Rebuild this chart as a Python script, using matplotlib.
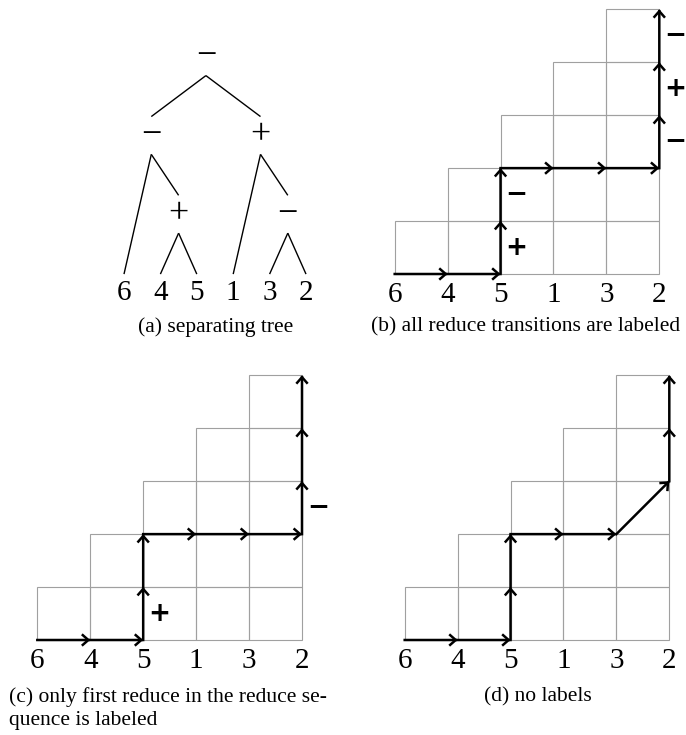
import matplotlib
matplotlib.use("Agg")
import matplotlib.pyplot as plt
from matplotlib.patches import Rectangle, FancyArrowPatch

# ---------------- data ----------------
leaf_labels = ['6', '4', '5', '1', '3', '2']
# tree nodes: name -> (label, x, level)
tree_nodes = {
    'root': ('\u2212', 2.25, 3),
    'L':    ('\u2212', 0.75, 2),
    'R':    ('+',      3.75, 2),
    'Lp':   ('+',      1.5, 1),
    'Rm':   ('\u2212', 4.5, 1),
    'l0': ('6', 0, 0), 'l1': ('4', 1, 0), 'l2': ('5', 2, 0),
    'l3': ('1', 3, 0), 'l4': ('3', 4, 0), 'l5': ('2', 5, 0),
}
tree_edges = [('root', 'L'), ('root', 'R'), ('L', 'l0'), ('L', 'Lp'),
              ('Lp', 'l1'), ('Lp', 'l2'), ('R', 'l3'), ('R', 'Rm'),
              ('Rm', 'l4'), ('Rm', 'l5')]

n_cols = 5
path_b = [(0, 0), (1, 0), (2, 0), (2, 1), (2, 2), (3, 2), (4, 2), (5, 2),
          (5, 3), (5, 4), (5, 5)]
path_c = path_b
path_d = [(0, 0), (1, 0), (2, 0), (2, 1), (2, 2), (3, 2), (4, 2), (5, 3),
          (5, 4), (5, 5)]
signs_b = [(2, 0.5, '+'), (2, 1.5, '\u2212'), (5, 2.5, '\u2212'),
           (5, 3.5, '+'), (5, 4.5, '\u2212')]
signs_c = [(2, 0.5, '+'), (5, 2.5, '\u2212')]
signs_d = []

captions = {
    'a': '(a) separating tree',
    'b': '(b) all reduce transitions are labeled',
    'c1': '(c) only first reduce in the reduce se-',
    'c2': 'quence is labeled',
    'd': '(d) no labels',
}

# ---------------- figure ----------------
W, H = 686, 735
fig = plt.figure(figsize=(W / 100, H / 100), dpi=100)
SERIF = ['Liberation Serif', 'DejaVu Serif']


def px_axes(x0, y0, x1, y1, xlim, ylim):
    """axes whose data box xlim/ylim maps to pixel box (x0,y0)-(x1,y1) (y from top)."""
    ax = fig.add_axes([x0 / W, 1 - y1 / H, (x1 - x0) / W, (y1 - y0) / H])
    ax.set_xlim(*xlim)
    ax.set_ylim(*ylim)
    ax.axis('off')
    return ax


GRAY = '#a0a0a0'


def draw_grid_panel(ax, path, signs):
    for r in range(n_cols):
        for c in range(r, n_cols):
            ax.add_patch(Rectangle((c, r), 1, 1, fill=False, ec=GRAY, lw=0.8,
                                   clip_on=False, zorder=1))
    for (xa, ya), (xb, yb) in zip(path[:-1], path[1:]):
        ar = FancyArrowPatch((xa, ya), (xb, yb),
                             arrowstyle='->,head_length=0.4,head_width=0.35',
                             mutation_scale=10, lw=1.8, color='black',
                             shrinkA=0, shrinkB=0, clip_on=False, zorder=3,
                             capstyle='projecting', joinstyle='miter')
        ax.add_patch(ar)
    for x, y, s in signs:
        ax.text(x + 0.3, y, s, ha='center', va='center', fontsize=19,
                fontweight='bold', family='DejaVu Sans', zorder=4)
    for i, lab in enumerate(leaf_labels):
        ax.text(i, -0.4, lab, ha='center', va='center', fontsize=21,
                family=SERIF)


# (a) tree
ax_a = px_axes(124, 56.7, 306, 293, (0, 5), (0, 3))
d = 0.24
for p, c in tree_edges:
    _, px_, py_ = tree_nodes[p]
    _, cx_, cy_ = tree_nodes[c]
    ax_a.plot([px_, cx_], [py_ - d, cy_ + d], color='black', lw=1.0,
              clip_on=False, solid_capstyle='butt')
for name, (lab, x, y) in tree_nodes.items():
    fs = 21 if y == 0 else 26
    ax_a.text(x, y, lab, ha='center', va='center', fontsize=fs, family=SERIF)

# (b)
ax_b = px_axes(394.7, 9.3, 659.3, 274, (0, 5), (0, 5))
draw_grid_panel(ax_b, path_b, signs_b)
# (c)
ax_c = px_axes(37.3, 375.3, 302, 640, (0, 5), (0, 5))
draw_grid_panel(ax_c, path_c, signs_c)
# (d)
ax_d = px_axes(404.7, 375.3, 669.3, 640, (0, 5), (0, 5))
draw_grid_panel(ax_d, path_d, signs_d)

# captions
cap_fs = 15.5
fig.text(216 / W, 1 - 327 / H, captions['a'], ha='center', va='center',
         fontsize=cap_fs, family=SERIF)
fig.text(526 / W, 1 - 327 / H, captions['b'], ha='center', va='center',
         fontsize=cap_fs, family=SERIF)
fig.text(9 / W, 1 - 697 / H, captions['c1'], ha='left', va='center',
         fontsize=cap_fs, family=SERIF)
fig.text(9 / W, 1 - 720 / H, captions['c2'], ha='left', va='center',
         fontsize=cap_fs, family=SERIF)
fig.text(538 / W, 1 - 697 / H, captions['d'], ha='center', va='center',
         fontsize=cap_fs, family=SERIF)

fig.savefig('out.png', dpi=100, facecolor='white')
